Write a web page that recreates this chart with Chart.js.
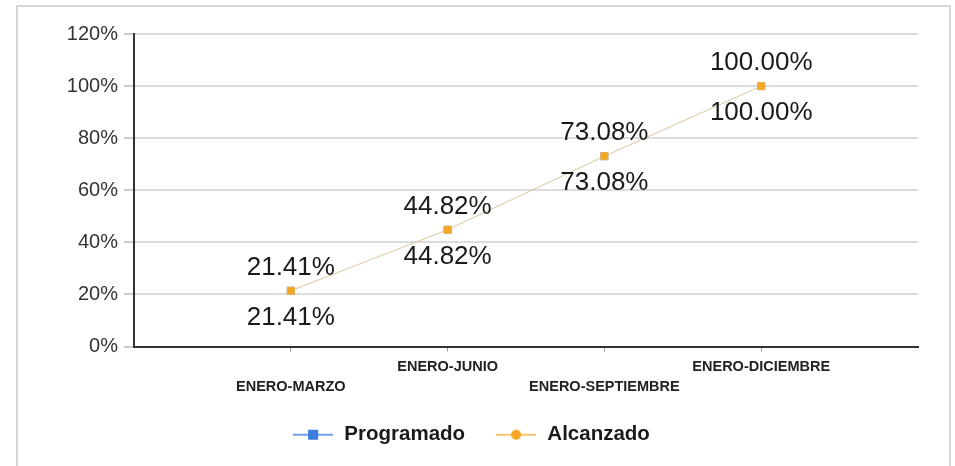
<!DOCTYPE html>
<html>
<head>
<meta charset="utf-8">
<script src="https://cdn.jsdelivr.net/npm/chart.js@4.4.0/dist/chart.umd.min.js"></script>
<style>
  html, body { margin: 0; padding: 0; background: #fff; }
  #wrap { position: relative; width: 955px; height: 466px; overflow: hidden; }
  #frame { position: absolute; left: 16px; top: 5px; width: 931px; height: 480px; border: 2px solid #d6d6d6; pointer-events: none; }
  canvas { position: absolute; left: 0; top: 0; }
</style>
</head>
<body>
<div id="wrap">
  <canvas id="myChart" width="955" height="466"></canvas>
  <div id="frame"></div>
</div>
<script>
const periodos = ["ENERO-MARZO", "ENERO-JUNIO", "ENERO-SEPTIEMBRE", "ENERO-DICIEMBRE"];
const programado = [21.41, 44.82, 73.08, 100.00];
const alcanzado = [21.41, 44.82, 73.08, 100.00];
const yTicks = [0, 20, 40, 60, 80, 100, 120];

function icono(color, lineColor, forma) {
    let c = document.createElement("canvas");
    c.width = 40; c.height = 14;
    let x = c.getContext("2d");
    x.strokeStyle = lineColor; x.lineWidth = 2;
    x.beginPath(); x.moveTo(0, 7); x.lineTo(40, 7); x.stroke();
    x.fillStyle = color;
    if (forma === "rect") {
        x.fillRect(15, 2, 10, 10);
    } else {
        x.beginPath(); x.arc(20, 7, 5, 0, Math.PI * 2); x.fill();
    }
    return c;
}
const iconos = [icono("#3b7ddd", "#6fa1ee", "rect"), icono("#f5a623", "#f6c370", "circle")];

const etiquetas = {
    id: "etiquetas",
    afterDatasetsDraw(chart) {
        let ctx = chart.ctx;
        ctx.save();
        ctx.font = "26px 'Liberation Sans', Arial, sans-serif";
        ctx.fillStyle = "#1a1a1a";
        ctx.textAlign = "center";
        ctx.textBaseline = "middle";
        chart.data.datasets.forEach((ds, i) => {
            let meta = chart.getDatasetMeta(i);
            let off = i === 0 ? -23 : 27;
            meta.data.forEach((el, j) => {
                ctx.fillText(ds.data[j].y.toFixed(2) + "%", el.x, el.y + off);
            });
        });
        ctx.restore();
    }
};

let e = document.getElementById("myChart");
new Chart(e, {
    type: "line",
    data: {
        datasets: [{
            label: "Programado",
            data: programado.map((v, i) => ({x: i + 1, y: v})),
            borderColor: "#6fa1ee",
            backgroundColor: "#3b7ddd",
            borderWidth: 1,
            showLine: false,
            pointStyle: "rect",
            pointRadius: 5,
            order: 2
        }, {
            label: "Alcanzado",
            data: alcanzado.map((v, i) => ({x: i + 1, y: v})),
            borderColor: "#dcc69c",
            backgroundColor: "#f5a623",
            pointBorderColor: "#f5b040",
            borderWidth: 1,
            pointStyle: "rect",
            pointRadius: 5,
            order: 1
        }]
    },
    options: {
        animation: false,
        responsive: false,
        events: [],
        layout: { padding: { top: 34, right: 37, left: 24, bottom: 11 } },
        scales: {
            x: {
                type: "linear",
                min: 0,
                max: 5,
                afterBuildTicks: s => { s.ticks = periodos.map((p, i) => ({value: i + 1})); },
                afterFit: s => { s.height = 48; },
                grid: { drawOnChartArea: false, drawTicks: true, tickLength: 5, tickColor: "#999" },
                border: { color: "#333", width: 2 },
                ticks: {
                    autoSkip: false,
                    maxRotation: 0,
                    padding: 6,
                    color: "#222",
                    font: { family: "'Liberation Sans', Arial, sans-serif", size: 14.5, weight: "bold", lineHeight: 1.35 },
                    callback: v => {
                        let i = Math.round(v) - 1;
                        return i % 2 === 0 ? ["", periodos[i]] : [periodos[i], ""];
                    }
                }
            },
            y: {
                min: 0,
                max: 120,
                afterBuildTicks: s => { s.ticks = yTicks.map(v => ({value: v})); },
                afterFit: s => { s.width = 110; },
                grid: { color: "#dcdcdc", lineWidth: 2, tickLength: 10, tickColor: "#999", tickWidth: 1 },
                border: { color: "#333", width: 2 },
                ticks: {
                    padding: 6,
                    color: "#333",
                    font: { family: "'Liberation Sans', Arial, sans-serif", size: 20 },
                    callback: v => v + "%"
                }
            }
        },
        plugins: {
            tooltip: { enabled: false },
            legend: {
                position: "bottom",
                labels: {
                    usePointStyle: true,
                    pointStyleWidth: 42,
                    padding: 30,
                    color: "#1a1a1a",
                    font: { family: "'Liberation Sans', Arial, sans-serif", size: 20.5, weight: "bold" },
                    generateLabels: chart => chart.data.datasets.map((ds, i) => ({
                        text: ds.label,
                        pointStyle: iconos[i],
                        datasetIndex: i,
                        hidden: false,
                        lineWidth: 0,
                        fontColor: "#1a1a1a",
                        strokeStyle: "transparent",
                        fillStyle: "transparent"
                    }))
                }
            }
        }
    },
    plugins: [etiquetas]
});
</script>
</body>
</html>
